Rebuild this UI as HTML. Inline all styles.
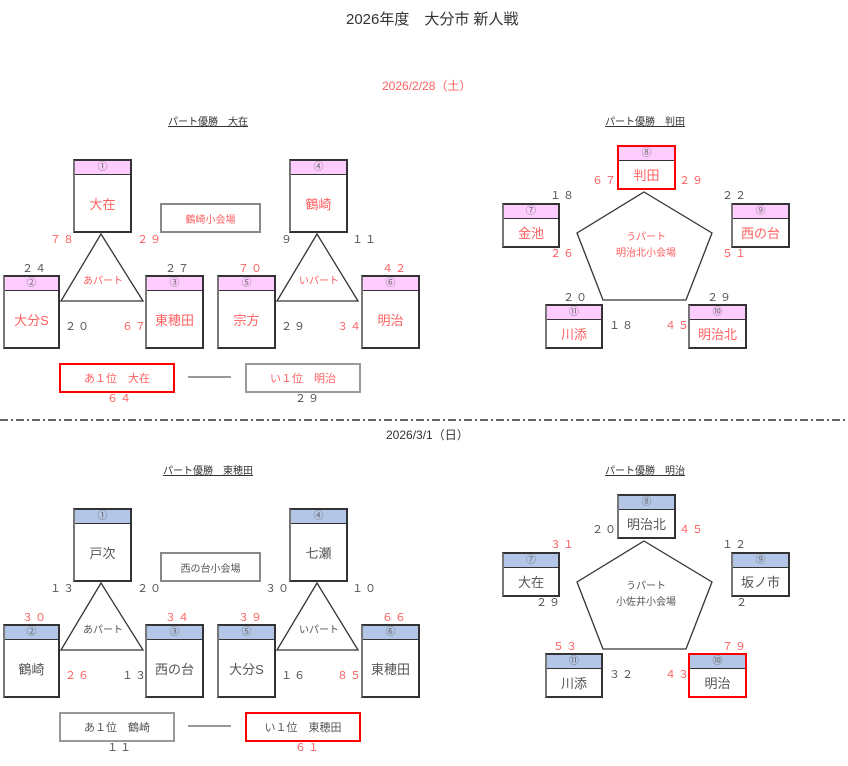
<!DOCTYPE html>
<html><head><meta charset="utf-8"><style>
*{margin:0;padding:0;box-sizing:border-box}
body{width:848px;height:766px;background:#fff;position:relative;overflow:hidden;font-family:"Liberation Sans","Noto Sans CJK JP",sans-serif;color:#404040}
.a{position:absolute;white-space:nowrap;line-height:1}
.box{position:absolute;border:2px solid #333;border-left-color:#777;background:#fff}
.box .h{height:14px;border-bottom:1.5px solid #333;font-size:10px;text-align:center;line-height:14px;color:#666}
.box .n{position:absolute;left:0;right:0;top:14px;bottom:0;display:flex;align-items:center;justify-content:center;font-size:13px}
.p .h{background:#ffccff}.b .h{background:#b4c6e7}
.r{color:#ff6060}.g{color:#555}
.rb{border:2px solid #ff0000!important}
.s{font-size:11px;letter-spacing:2px}
.t{font-size:10px;text-decoration:underline;color:#333}
.v{position:absolute;border:2px solid #888;font-size:10px;display:flex;align-items:center;justify-content:center}
.res{position:absolute;border:2px solid #999;font-size:11px;display:flex;align-items:center;justify-content:center}
</style></head><body>
<svg width="848" height="766" style="position:absolute;left:0;top:0">
<g fill="none" stroke="#333" stroke-width="1.3">
<polygon points="101,234 61,301 143,301"/><polygon points="317,234 277,301 358,301"/>
<polygon points="644,192 712,233 686,300 603,300 577,233"/>
<polygon points="101,583 61,650 143,650"/><polygon points="317,583 277,650 358,650"/>
<polygon points="644,541 712,582 686,649 603,649 577,582"/>
</g>
<g stroke="#333" stroke-width="1"><line x1="188" y1="377" x2="231" y2="377"/><line x1="188" y1="726" x2="231" y2="726"/></g>
<line x1="0" y1="420" x2="848" y2="420" stroke="#333" stroke-width="1.5" stroke-dasharray="8,3,2,3"/>
</svg>
<div class="a" style="left:346px;top:12px;font-size:15px;color:#333">2026年度　大分市 新人戦</div>
<div class="a r" style="left:382px;top:80px;font-size:12px">2026/2/28（土）</div>
<div class="a" style="left:386px;top:429px;font-size:12px;color:#333">2026/3/1（日）</div>

<div class="a t" style="left:168px;top:118px">パート優勝　大在</div>
<div class="a t" style="left:605px;top:118px">パート優勝　判田</div>
<div class="box p" style="left:73px;top:159px;width:59px;height:74px"><div class="h">①</div><div class="n r">大在</div></div>
<div class="box p" style="left:289px;top:159px;width:59px;height:74px"><div class="h">④</div><div class="n r">鶴崎</div></div>
<div class="box p" style="left:3px;top:275px;width:57px;height:74px"><div class="h">②</div><div class="n r">大分S</div></div>
<div class="box p" style="left:145px;top:275px;width:59px;height:74px"><div class="h">③</div><div class="n r">東穂田</div></div>
<div class="box p" style="left:217px;top:275px;width:59px;height:74px"><div class="h">⑤</div><div class="n r">宗方</div></div>
<div class="box p" style="left:361px;top:275px;width:59px;height:74px"><div class="h">⑥</div><div class="n r">明治</div></div>
<div class="v r" style="left:160px;top:203px;width:101px;height:30px">鶴崎小会場</div>
<div class="a r" style="left:83px;top:277px;font-size:10px">あパート</div>
<div class="a r" style="left:299px;top:277px;font-size:10px">いパート</div>
<div class="a s r" style="left:50px;top:235px">７８</div>
<div class="a s r" style="left:137px;top:235px">２９</div>
<div class="a s g" style="left:281px;top:235px">９</div>
<div class="a s g" style="left:352px;top:235px">１１</div>
<div class="a s g" style="left:22px;top:264px">２４</div>
<div class="a s g" style="left:165px;top:264px">２７</div>
<div class="a s r" style="left:238px;top:264px">７０</div>
<div class="a s r" style="left:382px;top:264px">４２</div>
<div class="a s g" style="left:65px;top:322px">２０</div>
<div class="a s r" style="left:122px;top:322px">６７</div>
<div class="a s g" style="left:281px;top:322px">２９</div>
<div class="a s r" style="left:337px;top:322px">３４</div>
<div class="res r rb" style="left:59px;top:363px;width:116px;height:30px">あ１位　大在</div>
<div class="res r" style="left:245px;top:363px;width:116px;height:30px">い１位　明治</div>
<div class="a s r" style="left:107px;top:394px">６４</div>
<div class="a s g" style="left:295px;top:394px">２９</div>

<div class="box p rb" style="left:617px;top:145px;width:59px;height:45px"><div class="h">⑧</div><div class="n r">判田</div></div>
<div class="box p" style="left:502px;top:203px;width:58px;height:45px"><div class="h">⑦</div><div class="n r">金池</div></div>
<div class="box p" style="left:731px;top:203px;width:59px;height:45px"><div class="h">⑨</div><div class="n r">西の台</div></div>
<div class="box p" style="left:545px;top:304px;width:58px;height:45px"><div class="h">⑪</div><div class="n r">川添</div></div>
<div class="box p" style="left:688px;top:304px;width:59px;height:45px"><div class="h">⑩</div><div class="n r">明治北</div></div>
<div class="a r" style="left:626px;top:233px;font-size:10px">うパート</div>
<div class="a r" style="left:616px;top:249px;font-size:10px">明治北小会場</div>
<div class="a s r" style="left:592px;top:176px">６７</div>
<div class="a s r" style="left:679px;top:176px">２９</div>
<div class="a s g" style="left:550px;top:191px">１８</div>
<div class="a s g" style="left:722px;top:191px">２２</div>
<div class="a s r" style="left:550px;top:249px">２６</div>
<div class="a s r" style="left:722px;top:249px">５１</div>
<div class="a s g" style="left:563px;top:293px">２０</div>
<div class="a s g" style="left:707px;top:293px">２９</div>
<div class="a s g" style="left:609px;top:321px">１８</div>
<div class="a s r" style="left:665px;top:321px">４５</div>

<div class="a t" style="left:163px;top:467px">パート優勝　東穂田</div>
<div class="a t" style="left:605px;top:467px">パート優勝　明治</div>
<div class="box b" style="left:73px;top:508px;width:59px;height:74px"><div class="h">①</div><div class="n g">戸次</div></div>
<div class="box b" style="left:289px;top:508px;width:59px;height:74px"><div class="h">④</div><div class="n g">七瀬</div></div>
<div class="box b" style="left:3px;top:624px;width:57px;height:74px"><div class="h">②</div><div class="n g">鶴崎</div></div>
<div class="box b" style="left:145px;top:624px;width:59px;height:74px"><div class="h">③</div><div class="n g">西の台</div></div>
<div class="box b" style="left:217px;top:624px;width:59px;height:74px"><div class="h">⑤</div><div class="n g">大分S</div></div>
<div class="box b" style="left:361px;top:624px;width:59px;height:74px"><div class="h">⑥</div><div class="n g">東穂田</div></div>
<div class="v g" style="left:160px;top:552px;width:101px;height:30px">西の台小会場</div>
<div class="a g" style="left:83px;top:626px;font-size:10px">あパート</div>
<div class="a g" style="left:299px;top:626px;font-size:10px">いパート</div>
<div class="a s g" style="left:50px;top:584px">１３</div>
<div class="a s g" style="left:137px;top:584px">２０</div>
<div class="a s g" style="left:265px;top:584px">３０</div>
<div class="a s g" style="left:352px;top:584px">１０</div>
<div class="a s r" style="left:22px;top:613px">３０</div>
<div class="a s r" style="left:165px;top:613px">３４</div>
<div class="a s r" style="left:238px;top:613px">３９</div>
<div class="a s r" style="left:382px;top:613px">６６</div>
<div class="a s r" style="left:65px;top:671px">２６</div>
<div class="a s g" style="left:122px;top:671px">１３</div>
<div class="a s g" style="left:281px;top:671px">１６</div>
<div class="a s r" style="left:337px;top:671px">８５</div>
<div class="res g" style="left:59px;top:712px;width:116px;height:30px">あ１位　鶴崎</div>
<div class="res g rb" style="left:245px;top:712px;width:116px;height:30px">い１位　東穂田</div>
<div class="a s g" style="left:107px;top:743px">１１</div>
<div class="a s r" style="left:295px;top:743px">６１</div>

<div class="box b" style="left:617px;top:494px;width:59px;height:45px"><div class="h">⑧</div><div class="n g">明治北</div></div>
<div class="box b" style="left:502px;top:552px;width:58px;height:45px"><div class="h">⑦</div><div class="n g">大在</div></div>
<div class="box b" style="left:731px;top:552px;width:59px;height:45px"><div class="h">⑨</div><div class="n g">坂ノ市</div></div>
<div class="box b" style="left:545px;top:653px;width:58px;height:45px"><div class="h">⑪</div><div class="n g">川添</div></div>
<div class="box b rb" style="left:688px;top:653px;width:59px;height:45px"><div class="h">⑩</div><div class="n g">明治</div></div>
<div class="a g" style="left:626px;top:582px;font-size:10px">うパート</div>
<div class="a g" style="left:616px;top:598px;font-size:10px">小佐井小会場</div>
<div class="a s g" style="left:592px;top:525px">２０</div>
<div class="a s r" style="left:679px;top:525px">４５</div>
<div class="a s r" style="left:550px;top:540px">３１</div>
<div class="a s g" style="left:722px;top:540px">１２</div>
<div class="a s g" style="left:536px;top:598px">２９</div>
<div class="a s g" style="left:736px;top:598px">２</div>
<div class="a s r" style="left:553px;top:642px">５３</div>
<div class="a s r" style="left:722px;top:642px">７９</div>
<div class="a s g" style="left:609px;top:670px">３２</div>
<div class="a s r" style="left:665px;top:670px">４３</div>
</body></html>
